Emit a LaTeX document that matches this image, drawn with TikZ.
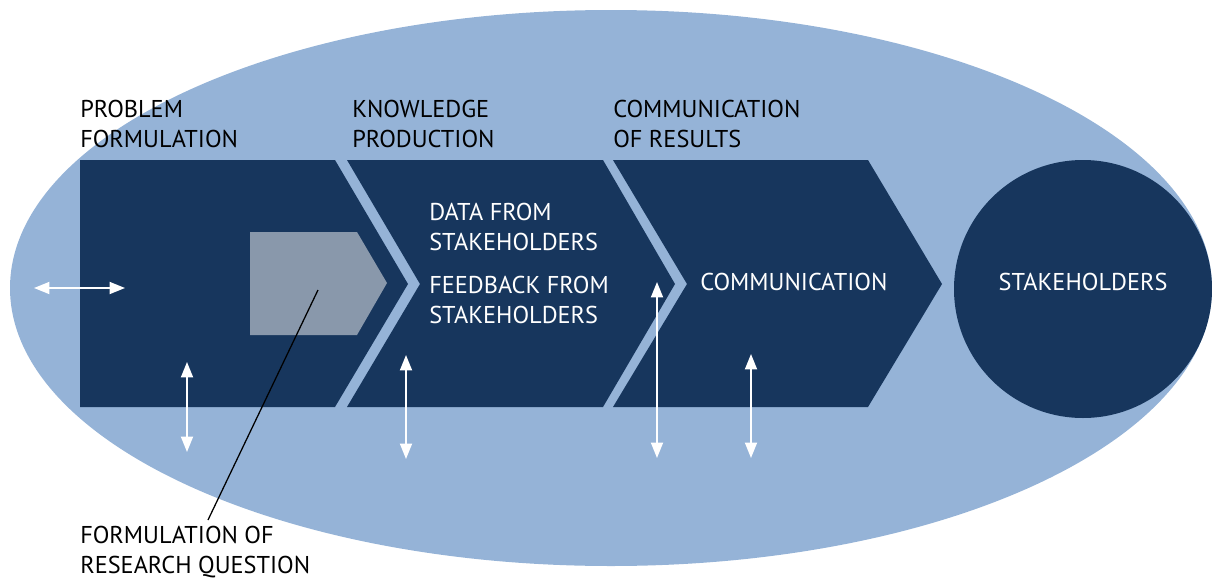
\documentclass[tikz,border=0pt]{standalone}
\usepackage{fontspec}
\setmainfont{PT Sans}
\usetikzlibrary{arrows.meta}
\definecolor{lightbl}{HTML}{95B3D7}
\definecolor{darkbl}{HTML}{17365D}
\definecolor{grayb}{HTML}{8998AB}
\tikzset{
  lbl/.style={inner sep=0pt, anchor=north west, align=left, font=\fontsize{17.3}{21.3}\selectfont},
  blk/.style={lbl, text=black},
  wht/.style={lbl, text=white},
  dbl/.style={draw=white, line width=1.4pt, {Triangle[length=11pt,width=8.5pt]}-{Triangle[length=11pt,width=8.5pt]}},
  leader/.style={draw=black, line width=0.9pt}
}
\begin{document}
\begin{tikzpicture}[x=0.025cm,y=0.025cm]
\useasboundingbox (0,0) rectangle (1212,-579);
% ellipse background
\fill[lightbl] (611,-288) ellipse [x radius=601, y radius=278];
% chevrons
\fill[darkbl] (80,-160) -- (335,-160) -- (408,-284) -- (335,-407) -- (80,-407) -- cycle;
\fill[darkbl] (347,-160) -- (603,-160) -- (675,-284) -- (603,-407) -- (347,-407) -- (420,-284) -- cycle;
\fill[darkbl] (613,-160) -- (868,-160) -- (942,-284) -- (868,-407) -- (613,-407) -- (687,-284) -- cycle;
% gray pentagon
\fill[grayb] (250,-232) -- (357,-232) -- (387,-283) -- (357,-335) -- (250,-335) -- cycle;
% stakeholders circle
\fill[darkbl] (1083,-289) circle [radius=129];
\node[wht, anchor=center] (stk) at (1083,-282) {STAKEHOLDERS};
% headings
\node[blk] (pf) at (80,-100) {PROBLEM\\FORMULATION};
\node[blk] (kp) at (352,-100) {KNOWLEDGE\\PRODUCTION};
\node[blk] (cr) at (613,-100) {COMMUNICATION\\OF RESULTS};
% inner texts
\node[wht] (data) at (429,-203) {DATA FROM\\STAKEHOLDERS};
\node[wht] (fb) at (429,-276) {FEEDBACK FROM\\STAKEHOLDERS};
\node[wht] (comm) at (700,-273) {COMMUNICATION};
\node[blk] (frq) at (80,-526) {FORMULATION OF\\RESEARCH QUESTION};
% arrows
\coordinate (h1) at (34,-288); \coordinate (h2) at (125,-288);
\coordinate (a1t) at (187,-362); \coordinate (a1b) at (187,-452);
\coordinate (a2t) at (406,-355); \coordinate (a2b) at (406,-459);
\coordinate (a3t) at (657,-282); \coordinate (a3b) at (657,-458);
\coordinate (a4t) at (751,-354); \coordinate (a4b) at (751,-458);
\draw[dbl] (h1) -- (h2);
\draw[dbl] (a1t) -- (a1b);
\draw[dbl] (a2t) -- (a2b);
\draw[dbl] (a3t) -- (a3b);
\draw[dbl] (a4t) -- (a4b);
% leader line
\coordinate (ls) at (318,-290);
\coordinate (le) at (208,-520);
\draw[leader] (ls) -- (le);
\end{tikzpicture}
\end{document}
